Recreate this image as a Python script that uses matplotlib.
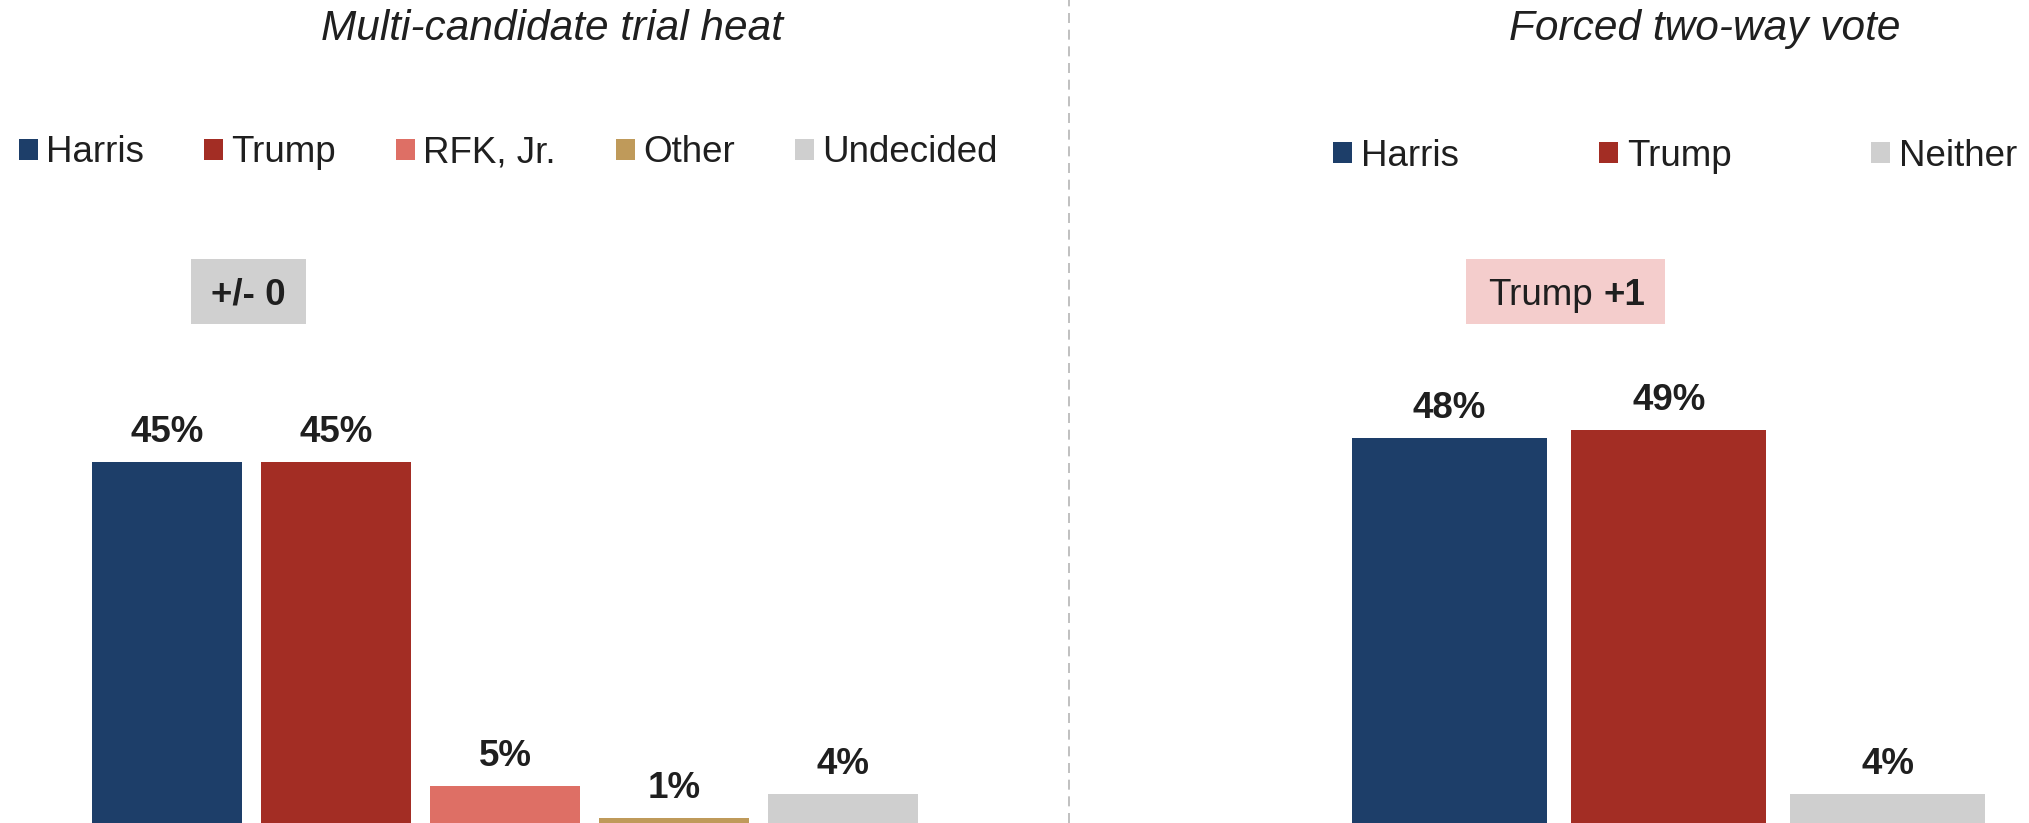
import matplotlib
matplotlib.use("Agg")
import matplotlib.pyplot as plt
from matplotlib.patches import Rectangle
from matplotlib.lines import Line2D

plt.rcParams['font.family'] = ['Liberation Sans', 'DejaVu Sans']

# data
multi_labels = ["Harris", "Trump", "RFK, Jr.", "Other", "Undecided"]
multi_values = [45, 45, 5, 1, 4]
multi_colors = ["#1d3e69", "#a32d24", "#de6f65", "#bf9a5a", "#cfcfcf"]

forced_labels = ["Harris", "Trump", "Neither"]
forced_values = [48, 49, 4]
forced_colors = ["#1d3e69", "#a32d24", "#cfcfcf"]

textcolor = "#1f1f1f"

fig = plt.figure(figsize=(20.29, 8.23), dpi=100)

# [left, bottom, width, height]
ax1 = fig.add_axes([0.04066, -0.00425, 0.4165, 0.9842])
ax2 = fig.add_axes([0.6604, -0.00425, 0.3241, 0.9842])


def draw_panel(ax, labels, values, colors, width=0.89):
  x = range(len(labels))
  bars = ax.bar(x, values, width, color=colors, label=labels)
  for xi, v in zip(x, values):
    ax.annotate("{}%".format(v), (xi, v), xytext=(0, 14.4), textcoords="offset points",
                ha="center", va="baseline", fontsize=26.5, fontweight="bold", color=textcolor)
  ax.set_xlim(-0.5, len(labels) - 0.5)
  ax.set_ylim(0, 100)
  ax.axis("off")
  return bars


bars1 = draw_panel(ax1, multi_labels, multi_values, multi_colors)
bars2 = draw_panel(ax2, forced_labels, forced_values, forced_colors)

# margin boxes
ax1.add_patch(Rectangle((0.142, 62.0), 0.68, 8.1, facecolor="#d0d0d0", edgecolor="none"))
ax1.text(0.48, 64.4, "+/- 0", ha="center", va="baseline", fontsize=26.5,
         fontweight="bold", color=textcolor)

ax2.add_patch(Rectangle((0.075, 62.0), 0.909, 8.1, facecolor="#f4cdcc", edgecolor="none"))
ax2.text(0.655, 64.4, "Trump", ha="right", va="baseline", fontsize=26.5, color=textcolor)
ax2.text(0.701, 64.4, "+1", ha="left", va="baseline", fontsize=26.5,
         fontweight="bold", color=textcolor)

# titles
fig.text(0.272, 1 - 40 / 823, "Multi-candidate trial heat", ha="center", va="baseline",
         fontsize=30.5, style="italic", color=textcolor)
fig.text(0.8403, 1 - 40 / 823, "Forced two-way vote", ha="center", va="baseline",
         fontsize=30.5, style="italic", color=textcolor)

# legends
fig.legend(bars1, multi_labels, loc="center left", bbox_to_anchor=(19 / 2029, 1 - 153 / 823),
           ncol=5, frameon=False, fontsize=26.5, handlelength=0.52, handleheight=0.49,
           handletextpad=0.22, columnspacing=1.63, borderpad=0, borderaxespad=0,
           labelcolor=textcolor)
fig.legend(bars2, forced_labels, loc="center left", bbox_to_anchor=(1333 / 2029, 1 - 156 / 823),
           ncol=3, frameon=False, fontsize=26.5, handlelength=0.52, handleheight=0.49,
           handletextpad=0.24, columnspacing=3.8, borderpad=0, borderaxespad=0,
           labelcolor=textcolor)

# divider between panels
fig.add_artist(Line2D([1069 / 2029, 1069 / 2029], [0, 1], transform=fig.transFigure,
                      color="#b5b5b5", linewidth=1.2, linestyle=(0, (6, 4))))

plt.savefig("out.png", dpi=100)
